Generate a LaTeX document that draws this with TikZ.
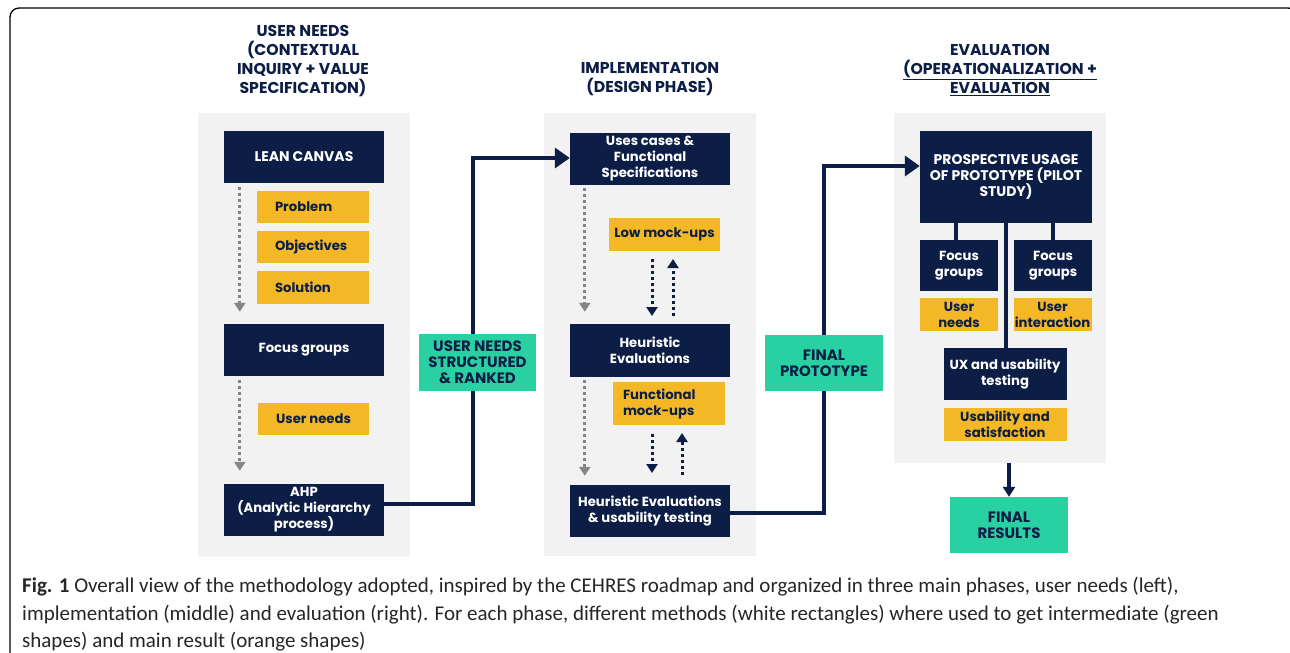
\documentclass[tikz,border=0pt]{standalone}
\usepackage{fontspec}
\setmainfont{Poppins}
\newfontfamily\capfont{Carlito}
\usetikzlibrary{arrows.meta,calc}
\definecolor{navy}{HTML}{0C1E46}
\definecolor{amber}{HTML}{F4B826}
\definecolor{teal}{HTML}{29D0A1}
\definecolor{panelgray}{HTML}{F2F2F2}
\definecolor{dotgray}{HTML}{858585}
\tikzset{
  boxbase/.style={inner sep=0pt, align=center, font=\bfseries\fontsize{13.2}{16}\selectfont},
  capsfont/.style={font=\bfseries\fontsize{14}{16}\selectfont},
  nbox/.style={boxbase, fill=navy, text=white},
  ybox/.style={boxbase, fill=amber, text=navy},
  yleft/.style={ybox, align=left, text width=76pt},
  gbox/.style={boxbase, fill=teal, text=navy, font=\bfseries\fontsize{15}{16}\selectfont},
  panel/.style={fill=panelgray, inner sep=0pt},
  header/.style={align=center, text=navy, font=\bfseries\fontsize{15.7}{19}\selectfont},
  conn/.style={draw=navy, line width=3.5pt, -{Triangle[length=15pt,width=20pt]}},
  plainconn/.style={draw=navy, line width=3.5pt},
  grayarr/.style={draw=dotgray, line width=3pt, dash pattern=on 3pt off 3pt, -{Triangle[length=9pt,width=11pt]}},
  navyarr/.style={draw=navy, line width=3pt, dash pattern=on 3pt off 3pt, -{Triangle[length=9pt,width=11pt]}},
  capline/.style={anchor=base west, inner sep=0pt, font=\capfont\fontsize{21}{24}\selectfont, text=black!85}
}
\begin{document}
\begin{tikzpicture}[x=1pt,y=-1pt]
\useasboundingbox (0,0) rectangle (1290,653);
\fill[white] (0,0) rectangle (1290,653);
\begin{scope}
\clip (0,0) rectangle (1290,653);
\draw[line width=1.3pt, rounded corners=9pt] (10,700) -- (10,8) -- (1297,8) -- (1297,700);
\end{scope}

% headers
\node[header] (h1) at (303,61) {USER NEEDS\\(CONTEXTUAL\\INQUIRY + VALUE\\SPECIFICATION)};
\node[header] (h2) at (650,79.5) {IMPLEMENTATION\\(DESIGN PHASE)};
\node[header] (h3) at (1000,70) {EVALUATION\\\underline{(OPERATIONALIZATION +}\\\underline{EVALUATION}};

% panels
\node[panel, minimum width=212pt, minimum height=444pt] (p1) at (304,335) {};
\node[panel, minimum width=212pt, minimum height=443pt] (p2) at (650,334.5) {};
\node[panel, minimum width=212pt, minimum height=350pt] (p3) at (1000,287.5) {};

% left column
\node[nbox, capsfont, minimum width=160pt, minimum height=52pt] (lean) at (304,157) {LEAN CANVAS};
\node[yleft, minimum width=112pt, minimum height=32pt] (prob) at (313,207) {Problem};
\node[yleft, minimum width=112pt, minimum height=32pt] (obj) at (313,247) {Objectives};
\node[yleft, minimum width=112pt, minimum height=33pt] (sol) at (313,287.5) {Solution};
\node[nbox, minimum width=160pt, minimum height=52pt] (fg) at (304,350) {Focus groups};
\node[ybox, minimum width=111pt, minimum height=32pt] (un) at (313.5,419) {User needs};
\node[nbox, minimum width=160pt, minimum height=52pt] (ahp) at (304,510) {AHP\\(Analytic Hierarchy\\process)};

\draw[grayarr] ([xshift=16pt,yshift=-4pt]lean.south west) -- ([xshift=16pt,yshift=12pt]fg.north west);
\draw[grayarr] ([xshift=16pt,yshift=-4pt]fg.south west) -- ([xshift=16pt,yshift=13pt]ahp.north west);

% middle column
\node[nbox, minimum width=160pt, minimum height=52pt] (uses) at (650,159) {Uses cases \&\\Functional\\Specifications};
\node[ybox, minimum width=111pt, minimum height=33pt] (low) at (664.5,234.5) {Low mock-ups};
\node[nbox, minimum width=160pt, minimum height=53pt] (heu) at (650,350.5) {Heuristic\\Evaluations};
\node[ybox, minimum width=112pt, minimum height=43pt, align=left, text width=92pt] (fmock) at (669,403.5) {Functional\\mock-ups};
\node[nbox, minimum width=160pt, minimum height=52pt] (heu2) at (650,511) {Heuristic Evaluations\\\& usability testing};

\draw[grayarr] ([xshift=15pt,yshift=-3pt]uses.south west) -- ([xshift=15pt,yshift=12pt]heu.north west);
\draw[grayarr] ([xshift=15pt,yshift=-3pt]heu.south west) -- ([xshift=15pt,yshift=9pt]heu2.north west);

\coordinate (d1) at (652,259);
\coordinate (d1e) at (652,316);
\coordinate (u1) at (673,316);
\coordinate (u1e) at (673,259);
\coordinate (d2) at (652,434);
\coordinate (d2e) at (652,473);
\coordinate (u2) at (682,475);
\coordinate (u2e) at (682,433);
\draw[navyarr] (d1) -- (d1e);
\draw[navyarr] (u1) -- (u1e);
\draw[navyarr] (d2) -- (d2e);
\draw[navyarr] (u2) -- (u2e);

% right column
\node[nbox, capsfont, minimum width=172pt, minimum height=92pt] (pros) at (1006,177) {PROSPECTIVE USAGE\\OF PROTOTYPE (PILOT\\STUDY)};
\node[nbox, minimum width=78pt, minimum height=51pt] (fg1) at (959,265.5) {Focus\\groups};
\node[nbox, minimum width=78pt, minimum height=51pt] (fg2) at (1053,265.5) {Focus\\groups};
\node[ybox, minimum width=78pt, minimum height=33pt] (un2) at (959,314.5) {User\\needs};
\node[ybox, minimum width=78pt, minimum height=33pt] (ui) at (1052.5,314.5) {User\\interaction};
\node[nbox, minimum width=123pt, minimum height=52pt] (ux) at (1005,374) {UX and usability\\testing};
\node[ybox, minimum width=123pt, minimum height=33pt] (us) at (1005,424.5) {Usability and\\satisfaction};

\coordinate (t1) at (956,223);
\coordinate (t2) at (1006,223);
\coordinate (t3) at (1053,223);
\draw[plainconn] (t1) -- (t1 |- fg1.north);
\draw[plainconn] (t2) -- (t2 |- ux.north);
\draw[plainconn] (t3) -- (t3 |- fg2.north);

% connectors between phases
\coordinate (j1) at (473,158);
\coordinate (j2) at (824,166);
\draw[conn] ([yshift=6pt]ahp.east) -| (j1) -- (j1 -| uses.west);
\draw[conn] ([yshift=-2pt]heu2.east) -| (j2) -- (j2 -| pros.west);

\node[gbox, minimum width=117pt, minimum height=57pt] (g1) at (477.5,362.5) {USER NEEDS\\STRUCTURED\\\& RANKED};
\node[gbox, minimum width=118pt, minimum height=56pt] (g2) at (824,363) {FINAL\\PROTOTYPE};
\node[gbox, minimum width=118pt, minimum height=56pt] (fres) at (1009,525) {FINAL\\RESULTS};
\draw[conn, -{Triangle[length=10pt,width=12pt]}] (p3.south -| fres.north) -- (fres.north);

% caption
\node[capline] (c1) at (22,592) {\textbf{Fig. 1} Overall view of the methodology adopted, inspired by the CEHRES roadmap and organized in three main phases, user needs (left),};
\node[capline] (c2) at (22,620) {implementation (middle) and evaluation (right). For each phase, different methods (white rectangles) where used to get intermediate (green};
\node[capline] (c3) at (22,647) {shapes) and main result (orange shapes)};
\end{tikzpicture}
\end{document}
